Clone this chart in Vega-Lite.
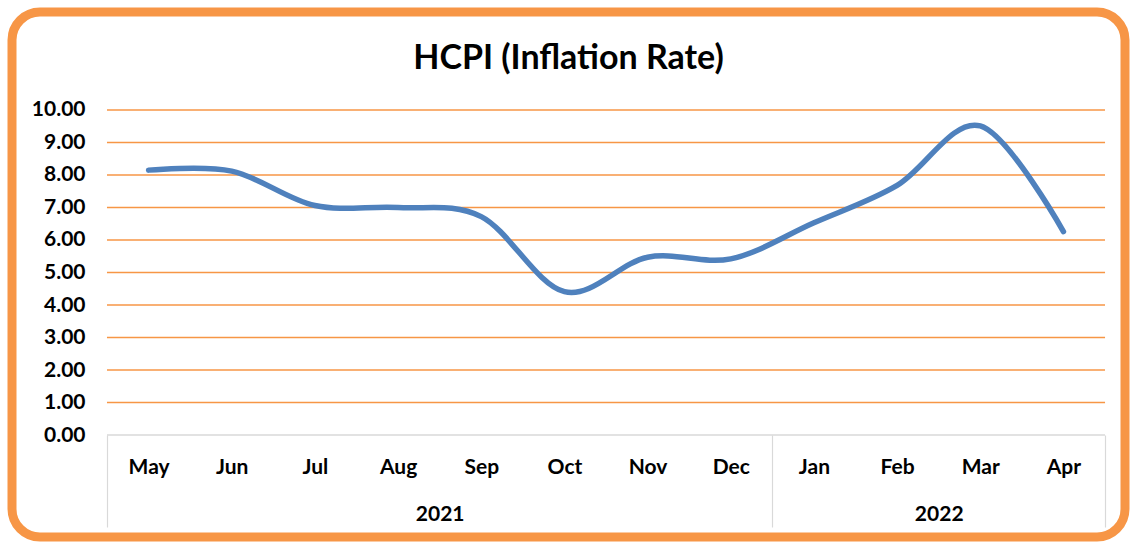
{
  "$schema": "https://vega.github.io/schema/vega-lite/v6.json",
  "autosize": {"type": "none"},
  "padding": {"left": 12, "top": 12, "right": 6, "bottom": 5},
  "width": 1113,
  "height": 525,
  "background": "white",
  "config": {
    "view": {"stroke": "#F79646", "strokeWidth": 9, "cornerRadius": 28},
    "font": "Lato"
  },
  "title": {
    "text": "HCPI (Inflation Rate)",
    "font": "Lato",
    "fontSize": 34,
    "fontWeight": "bold",
    "color": "#000000",
    "anchor": "middle",
    "frame": "group",
    "offset": -64
  },
  "datasets": {
    "series": [
      {"idx": 1, "month": "May", "value": 8.15},
      {"idx": 2, "month": "Jun", "value": 8.12},
      {"idx": 3, "month": "Jul", "value": 7.06},
      {"idx": 4, "month": "Aug", "value": 7.0},
      {"idx": 5, "month": "Sep", "value": 6.72},
      {"idx": 6, "month": "Oct", "value": 4.41},
      {"idx": 7, "month": "Nov", "value": 5.47},
      {"idx": 8, "month": "Dec", "value": 5.42},
      {"idx": 9, "month": "Jan", "value": 6.53},
      {"idx": 10, "month": "Feb", "value": 7.68},
      {"idx": 11, "month": "Mar", "value": 9.51},
      {"idx": 12, "month": "Apr", "value": 6.26}
    ],
    "grid": [
      {"level": 0, "start": 0.5, "end": 12.5, "kind": "axis"},
      {"level": 1, "start": 0.5, "end": 12.5, "kind": "grid"},
      {"level": 2, "start": 0.5, "end": 12.5, "kind": "grid"},
      {"level": 3, "start": 0.5, "end": 12.5, "kind": "grid"},
      {"level": 4, "start": 0.5, "end": 12.5, "kind": "grid"},
      {"level": 5, "start": 0.5, "end": 12.5, "kind": "grid"},
      {"level": 6, "start": 0.5, "end": 12.5, "kind": "grid"},
      {"level": 7, "start": 0.5, "end": 12.5, "kind": "grid"},
      {"level": 8, "start": 0.5, "end": 12.5, "kind": "grid"},
      {"level": 9, "start": 0.5, "end": 12.5, "kind": "grid"},
      {"level": 10, "start": 0.5, "end": 12.5, "kind": "grid"}
    ]
  },
  "layer": [
    {
      "data": {"name": "grid"},
      "mark": {"type": "rule", "strokeWidth": 1.6},
      "encoding": {
        "x": {
          "field": "start",
          "type": "quantitative",
          "scale": {"domain": [-0.642, 12.74], "nice": false, "zero": false},
          "axis": {
            "orient": "bottom",
            "offset": -102,
            "title": null,
            "domain": false,
            "grid": false,
            "values": [0.5, 4.5, 8.5, 10.5, 12.5],
            "labelExpr": "datum.value == 4.5 ? '2021' : (datum.value == 10.5 ? '2022' : '')",
            "ticks": true,
            "tickSize": 92,
            "tickWidth": 1.2,
            "tickColor": "#D9D9D9",
            "tickOpacity": {"expr": "datum.value == 4.5 || datum.value == 10.5 ? 0 : 1"},
            "labelPadding": -24,
            "labelFont": "Lato",
            "labelFontSize": 21,
            "labelFontWeight": "bold",
            "labelColor": "#000000",
            "labelFlush": false,
            "labelOverlap": false
          }
        },
        "x2": {"field": "end"},
        "y": {
          "field": "level",
          "type": "quantitative",
          "scale": {"domain": [-3.138, 13.015], "nice": false, "zero": false},
          "axis": {
            "orient": "left",
            "offset": -73,
            "title": null,
            "domain": false,
            "grid": false,
            "ticks": false,
            "tickSize": 0,
            "labelPadding": 0,
            "values": [0, 1, 2, 3, 4, 5, 6, 7, 8, 9, 10],
            "format": ".2f",
            "labelFont": "Lato",
            "labelFontSize": 21,
            "labelFontWeight": "bold",
            "labelColor": "#000000",
            "labelFlush": false,
            "labelOverlap": false
          }
        },
        "color": {
          "field": "kind",
          "type": "nominal",
          "scale": {"domain": ["axis", "grid"], "range": ["#D9D9D9", "#F79646"]},
          "legend": null
        }
      }
    },
    {
      "data": {"name": "series"},
      "mark": {"type": "line", "interpolate": "cardinal", "strokeWidth": 5.5, "color": "#4F81BD", "strokeCap": "round"},
      "encoding": {
        "x": {
          "field": "idx",
          "type": "quantitative",
          "scale": {"domain": [-0.642, 12.74], "nice": false, "zero": false},
          "axis": {
            "orient": "bottom",
            "offset": -102,
            "title": null,
            "domain": false,
            "grid": false,
            "ticks": false,
            "tickSize": 0,
            "values": [1, 2, 3, 4, 5, 6, 7, 8, 9, 10, 11, 12],
            "labelExpr": "['May','Jun','Jul','Aug','Sep','Oct','Nov','Dec','Jan','Feb','Mar','Apr'][datum.value - 1]",
            "labelPadding": 21,
            "labelFont": "Lato",
            "labelFontSize": 21,
            "labelFontWeight": "bold",
            "labelColor": "#000000",
            "labelFlush": false,
            "labelOverlap": false
          }
        },
        "y": {
          "field": "value",
          "type": "quantitative",
          "scale": {"domain": [-3.138, 13.015], "nice": false, "zero": false}
        }
      }
    }
  ],
  "resolve": {"axis": {"x": "independent"}}
}
